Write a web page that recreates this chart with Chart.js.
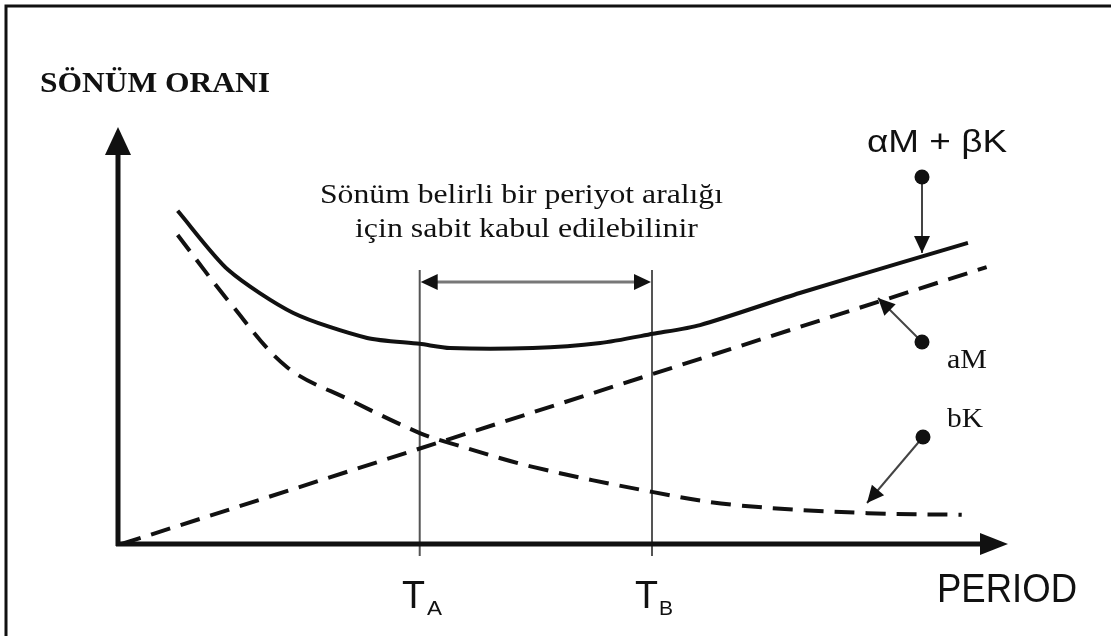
<!DOCTYPE html>
<html>
<head>
<meta charset="utf-8">
<script src="https://cdn.jsdelivr.net/npm/chart.js@4"></script>
<style>
  html, body { margin: 0; padding: 0; background: #fff; }
  #chart { display: block; }
</style>
</head>
<body>
<canvas id="chart" width="1111" height="636"></canvas>
<script>
// period (0-100 across the x axis) and damping ratio (0-100 up the y axis)
const totalX = [6.7, 12.4, 19.7, 28.0, 33.9, 37.3, 46.6, 54.2, 60.1, 65.4, 76.6, 87.9, 95.5]
const totalY = [79.9, 65.7, 55.4, 49.4, 48.0, 47.0, 47.0, 48.2, 50.4, 52.5, 60.2, 67.4, 72.2]

const massX = [0.4, 97.6]
const massY = [0.0, 66.4]

const stiffX = [6.7, 12.6, 19.0, 26.1, 33.9, 37.3, 46.6, 60.0, 69.1, 84.2, 94.8]
const stiffY = [74.1, 57.8, 42.4, 34.5, 26.6, 24.2, 18.5, 12.5, 9.4, 7.4, 7.0]

const periodA = 33.9
const periodB = 60.0

const toPoints = (xs, ys) => xs.map((x, i) => ({ x, y: ys[i] }))

const ink = "#111"
const serif = "'Liberation Serif', 'Times New Roman', Times, serif"
const sans = "'Liberation Sans', Arial, Helvetica, sans-serif"

function fitText(ctx, str, x, y, font, width) {
  ctx.save()
  ctx.font = font
  const s = width / ctx.measureText(str).width
  ctx.translate(x, y)
  ctx.scale(s, 1)
  ctx.textAlign = "left"
  ctx.textBaseline = "alphabetic"
  ctx.fillStyle = ink
  ctx.fillText(str, 0, 0)
  ctx.restore()
}

function arrowHead(ctx, tx, ty, fx, fy, len, half) {
  const a = Math.atan2(ty - fy, tx - fx)
  ctx.save()
  ctx.translate(tx, ty)
  ctx.rotate(a)
  ctx.beginPath()
  ctx.moveTo(0, 0)
  ctx.lineTo(-len, -half)
  ctx.lineTo(-len, half)
  ctx.closePath()
  ctx.fillStyle = ink
  ctx.fill()
  ctx.restore()
}

function callout(ctx, dx, dy, tx, ty) {
  ctx.save()
  ctx.strokeStyle = "#444"
  ctx.lineWidth = 2
  ctx.beginPath()
  ctx.moveTo(dx, dy)
  ctx.lineTo(tx, ty)
  ctx.stroke()
  ctx.beginPath()
  ctx.arc(dx, dy, 7.5, 0, Math.PI * 2)
  ctx.fillStyle = ink
  ctx.fill()
  ctx.restore()
  arrowHead(ctx, tx, ty, dx, dy, 17, 8)
}

const diagram = {
  id: "diagram",
  beforeDatasetsDraw(chart) {
    const { ctx, scales: { x, y } } = chart
    const x0 = x.getPixelForValue(0)
    const y0 = y.getPixelForValue(0)

    // frame (top and left only)
    ctx.save()
    ctx.strokeStyle = ink
    ctx.lineWidth = 3
    ctx.beginPath()
    ctx.moveTo(6, 636)
    ctx.lineTo(6, 6)
    ctx.lineTo(1111, 6)
    ctx.stroke()

    // T_A / T_B guides
    const xa = x.getPixelForValue(periodA)
    const xb = x.getPixelForValue(periodB)
    ctx.strokeStyle = "#555"
    ctx.lineWidth = 2
    ctx.beginPath()
    ctx.moveTo(xa, 270); ctx.lineTo(xa, 556)
    ctx.moveTo(xb, 270); ctx.lineTo(xb, 556)
    ctx.stroke()

    // range arrow between them
    ctx.strokeStyle = "#777"
    ctx.lineWidth = 3
    ctx.beginPath()
    ctx.moveTo(xa + 10, 282); ctx.lineTo(xb - 10, 282)
    ctx.stroke()
    ctx.restore()
    arrowHead(ctx, xa + 1, 282, xb, 282, 17, 8)
    arrowHead(ctx, xb - 1, 282, xa, 282, 17, 8)

    // axes with arrows
    ctx.save()
    ctx.strokeStyle = ink
    ctx.lineWidth = 5
    ctx.beginPath()
    ctx.moveTo(x0, y0 + 2); ctx.lineTo(x0, 150)
    ctx.moveTo(x0 - 2, y0); ctx.lineTo(985, y0)
    ctx.stroke()
    ctx.restore()
    arrowHead(ctx, x0, 127, x0, y0, 28, 13)
    arrowHead(ctx, 1008, y0, x0, y0, 28, 11)
  },
  afterDatasetsDraw(chart) {
    const { ctx } = chart

    callout(ctx, 922, 177, 922, 253)
    callout(ctx, 922, 342, 878, 298)
    callout(ctx, 923, 437, 867, 503)

    fitText(ctx, "SÖNÜM ORANI", 40, 92, "bold 29px " + serif, 230)
    fitText(ctx, "αM + βK", 867, 152, "31px " + sans, 140)
    fitText(ctx, "Sönüm belirli bir periyot aralığı", 320, 203, "27px " + serif, 403)
    fitText(ctx, "için sabit kabul edilebilinir", 355, 237, "27px " + serif, 343)
    fitText(ctx, "aM", 947, 368, "28px " + serif, 40)
    fitText(ctx, "bK", 947, 427, "27px " + serif, 36)

    fitText(ctx, "T", 402, 608, "39px " + sans, 23)
    fitText(ctx, "A", 427, 615, "21px " + sans, 15)
    fitText(ctx, "T", 635, 608, "39px " + sans, 23)
    fitText(ctx, "B", 659, 615, "21px " + sans, 14)
    fitText(ctx, "PERIOD", 937, 602, "40px " + sans, 140)
  }
}

const line = (label, data, dash, tension) => ({
  label,
  data,
  borderColor: ink,
  backgroundColor: "transparent",
  borderWidth: 4,
  borderDash: dash,
  tension,
  pointRadius: 0,
  fill: false
})

function draw() {
  new Chart(document.getElementById("chart"), {
    type: "line",
    data: {
      datasets: [
        line("αM + βK", toPoints(totalX, totalY), [], 0.25),
        line("aM", toPoints(massX, massY), [20, 11], 0),
        line("bK", toPoints(stiffX, stiffY), [20, 11], 0.35)
      ]
    },
    options: {
      responsive: false,
      animation: false,
      layout: { padding: { left: 118, right: 103, top: 127, bottom: 92 } },
      plugins: { legend: { display: false }, tooltip: { enabled: false } },
      scales: {
        x: { type: "linear", min: 0, max: 100, display: false },
        y: { min: 0, max: 100, display: false }
      }
    },
    plugins: [diagram]
  })
}

Promise.all([
  document.fonts.load("27px 'Liberation Serif'"),
  document.fonts.load("bold 29px 'Liberation Serif'"),
  document.fonts.load("31px 'Liberation Sans'")
]).then(draw, draw)
</script>
</body>
</html>
